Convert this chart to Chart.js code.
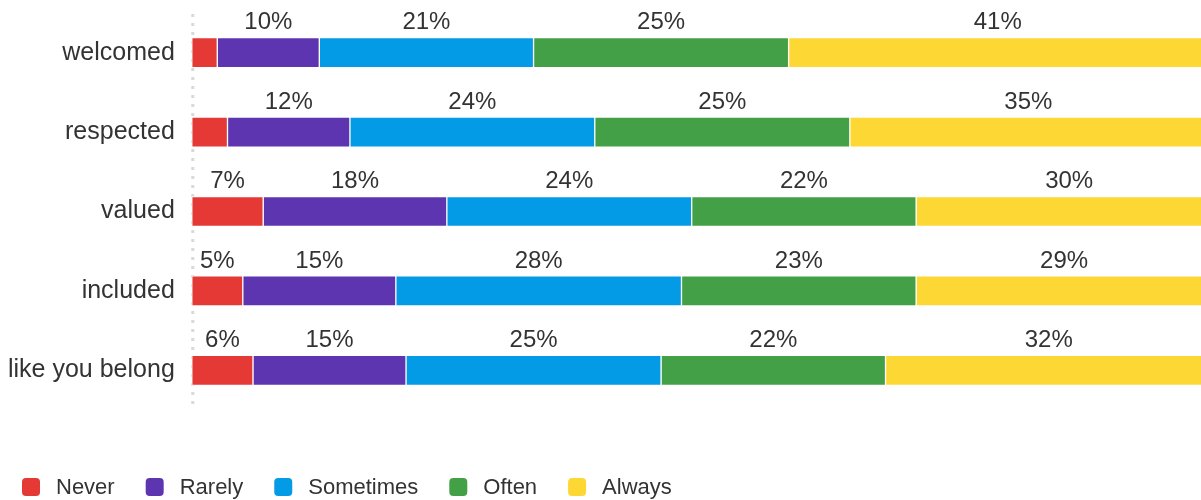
<!DOCTYPE html>
<html>
<head>
<meta charset="utf-8">
<script src="https://cdn.jsdelivr.net/npm/chart.js@4/dist/chart.umd.min.js"></script>
<style>
  html, body { margin: 0; padding: 0; background: #fff; overflow: hidden; }
  #wrap { width: 1214px; height: 500px; }
</style>
</head>
<body>
<div id="wrap"><canvas id="feelChart"></canvas></div>
<script>
const categories = ['welcomed', 'respected', 'valued', 'included', 'like you belong'];
const seriesNames = ['Never', 'Rarely', 'Sometimes', 'Often', 'Always'];
const seriesColors = ['#e53935', '#5e35b1', '#039be5', '#43a047', '#fdd835'];

// percent of answers per category, one array per answer
const never = [2.5, 3.5, 7, 5, 6];
const rarely = [10, 12, 18, 15, 15];
const sometimes = [21, 24, 24, 28, 25];
const often = [25, 25, 22, 23, 22];
const always = [41, 35, 30, 29, 32];

const seriesValues = [never, rarely, sometimes, often, always];
const FONT = '"Liberation Sans", Arial, sans-serif';
const TEXT_COLOR = '#333';

// dotted base line on the left edge of the plot
const dottedAxis = {
    id: 'dottedAxis',
    beforeDatasetsDraw(chart) {
        const { ctx, chartArea } = chart;
        ctx.save();
        ctx.strokeStyle = '#d9d9d9';
        ctx.lineWidth = 3;
        ctx.setLineDash([3, 6]);
        ctx.beginPath();
        ctx.moveTo(chartArea.left + 1, chartArea.top + 1);
        ctx.lineTo(chartArea.left + 1, chartArea.bottom);
        ctx.stroke();
        ctx.restore();
    }
};

// percentage above each segment (small ones are left out)
const segmentLabels = {
    id: 'segmentLabels',
    afterDatasetsDraw(chart) {
        const ctx = chart.ctx;
        ctx.save();
        ctx.font = '24px ' + FONT;
        ctx.fillStyle = TEXT_COLOR;
        ctx.textAlign = 'center';
        ctx.textBaseline = 'middle';
        chart.data.datasets.forEach((ds, di) => {
            chart.getDatasetMeta(di).data.forEach((bar, i) => {
                const v = ds.data[i];
                if (v < 5) return;
                const x = (bar.x + bar.base) / 2;
                ctx.fillText(Math.round(v) + '%', x, bar.y - 30);
            });
        });
        ctx.restore();
    }
};

// legend row along the bottom
const bottomLegend = {
    id: 'bottomLegend',
    afterDraw(chart) {
        const ctx = chart.ctx;
        const y = 487;
        let x = 22;
        ctx.save();
        ctx.font = '22px ' + FONT;
        ctx.textBaseline = 'middle';
        ctx.textAlign = 'left';
        chart.data.datasets.forEach(ds => {
            ctx.fillStyle = ds.backgroundColor;
            ctx.beginPath();
            ctx.roundRect(x, y - 9, 18, 18, 4);
            ctx.fill();
            ctx.fillStyle = TEXT_COLOR;
            ctx.fillText(ds.label, x + 34, y + 1);
            x += 34 + ctx.measureText(ds.label).width + 31;
        });
        ctx.restore();
    }
};

const datasets = seriesNames.map((name, i) => ({
    label: name,
    data: seriesValues[i],
    backgroundColor: seriesColors[i],
    borderColor: '#ffffff',
    borderWidth: 1,
    borderSkipped: false,
    barThickness: 30
}));

new Chart(document.getElementById('feelChart'), {
    type: 'bar',
    data: { labels: categories, datasets: datasets },
    options: {
        indexAxis: 'y',
        responsive: true,
        maintainAspectRatio: false,
        animation: false,
        layout: { padding: { left: -9, right: 2, top: 13, bottom: 90 } },
        plugins: {
            legend: { display: false },
            tooltip: { enabled: false }
        },
        scales: {
            x: {
                stacked: true,
                min: 0,
                max: 100,
                display: false
            },
            y: {
                stacked: true,
                grid: { display: false, drawTicks: false },
                border: { display: false },
                ticks: {
                    padding: 17,
                    color: TEXT_COLOR,
                    font: { size: 25, family: FONT }
                },
                // the top label needs no extra room above the bars
                afterFit(scale) {
                    scale.paddingTop = 0;
                    scale.paddingBottom = 0;
                }
            }
        }
    },
    plugins: [dottedAxis, segmentLabels, bottomLegend]
});
</script>
</body>
</html>
